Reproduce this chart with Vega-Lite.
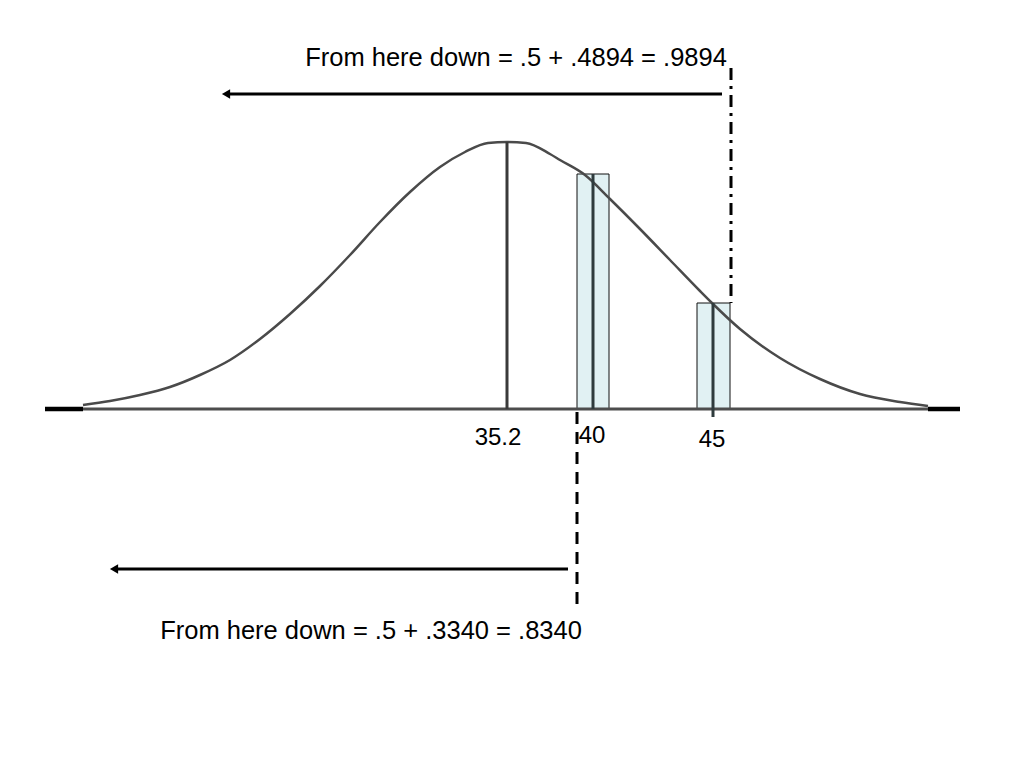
{
  "$schema": "https://vega.github.io/schema/vega-lite/v6.json",
  "width": 1024,
  "height": 768,
  "autosize": {"type": "fit", "contains": "padding"},
  "padding": 0,
  "background": "white",
  "config": {"view": {"stroke": null}},
  "datasets": {
    "curve": [
      {"x": 83, "y": 405}, {"x": 110, "y": 401}, {"x": 140, "y": 395}, {"x": 170, "y": 387},
      {"x": 200, "y": 375}, {"x": 230, "y": 360}, {"x": 260, "y": 339}, {"x": 290, "y": 314},
      {"x": 320, "y": 286}, {"x": 350, "y": 255}, {"x": 380, "y": 222}, {"x": 410, "y": 192},
      {"x": 440, "y": 167}, {"x": 465, "y": 152}, {"x": 488, "y": 143}, {"x": 507, "y": 142},
      {"x": 526, "y": 143}, {"x": 550, "y": 154}, {"x": 560, "y": 160}, {"x": 585, "y": 175},
      {"x": 610, "y": 199}, {"x": 640, "y": 229}, {"x": 670, "y": 260}, {"x": 700, "y": 291},
      {"x": 712, "y": 303}, {"x": 740, "y": 329}, {"x": 780, "y": 358}, {"x": 820, "y": 379},
      {"x": 860, "y": 394}, {"x": 900, "y": 402}, {"x": 928, "y": 406}
    ],
    "bars": [
      {"label": "40", "x": 577, "x2": 609, "y": 174, "y2": 409},
      {"label": "45", "x": 697, "x2": 730, "y": 303, "y2": 409}
    ],
    "barlines": [
      {"x": 593, "y": 174, "y2": 409},
      {"x": 713, "y": 303, "y2": 417}
    ],
    "meanline": [{"x": 507, "y": 142, "y2": 409}],
    "baseline": [{"x": 45, "x2": 960, "y": 409}],
    "ends": [{"x": 45, "x2": 83, "y": 409}, {"x": 928, "x2": 960, "y": 409}],
    "ticklabels": [
      {"x": 498, "y": 438, "label": "35.2"},
      {"x": 592, "y": 436, "label": "40"},
      {"x": 712, "y": 440, "label": "45"}
    ],
    "dashed": [{"x": 577, "y": 412, "y2": 612}],
    "dashdot": [{"x": 731, "y": 68, "y2": 303}],
    "arrows": [
      {"x": 228, "x2": 722, "y": 94},
      {"x": 116, "x2": 568, "y": 569}
    ],
    "heads": [{"x": 226, "y": 94}, {"x": 114, "y": 569}],
    "notes": [
      {"x": 516, "y": 58, "label": "From here down = .5 + .4894 = .9894"},
      {"x": 371, "y": 631, "label": "From here down = .5 + .3340 = .8340"}
    ]
  },
  "layer": [
    {
      "data": {"name": "bars"},
      "mark": {"type": "rect", "fill": "#e1f1f3", "stroke": "#111111", "strokeWidth": 1},
      "encoding": {
        "x": {"field": "x", "type": "quantitative", "scale": {"domain": [0, 1024], "nice": false, "zero": false}, "axis": null},
        "x2": {"field": "x2"},
        "y": {"field": "y", "type": "quantitative", "scale": {"domain": [0, 768], "nice": false, "zero": false, "reverse": true}, "axis": null},
        "y2": {"field": "y2"}
      }
    },
    {
      "data": {"name": "curve"},
      "mark": {"type": "line", "color": "#4a4a4a", "strokeWidth": 2.5, "interpolate": "monotone"},
      "encoding": {
        "x": {"field": "x", "type": "quantitative"},
        "y": {"field": "y", "type": "quantitative"}
      }
    },
    {
      "data": {"name": "baseline"},
      "mark": {"type": "rule", "color": "#4d4d4d", "strokeWidth": 3},
      "encoding": {
        "x": {"field": "x", "type": "quantitative"},
        "x2": {"field": "x2"},
        "y": {"field": "y", "type": "quantitative"}
      }
    },
    {
      "data": {"name": "ends"},
      "mark": {"type": "rule", "color": "#000000", "strokeWidth": 4.5},
      "encoding": {
        "x": {"field": "x", "type": "quantitative"},
        "x2": {"field": "x2"},
        "y": {"field": "y", "type": "quantitative"}
      }
    },
    {
      "data": {"name": "meanline"},
      "mark": {"type": "rule", "color": "#3a3a3a", "strokeWidth": 3},
      "encoding": {
        "x": {"field": "x", "type": "quantitative"},
        "y": {"field": "y", "type": "quantitative"},
        "y2": {"field": "y2"}
      }
    },
    {
      "data": {"name": "barlines"},
      "mark": {"type": "rule", "color": "#2f3b3d", "strokeWidth": 3},
      "encoding": {
        "x": {"field": "x", "type": "quantitative"},
        "y": {"field": "y", "type": "quantitative"},
        "y2": {"field": "y2"}
      }
    },
    {
      "data": {"name": "dashed"},
      "mark": {"type": "rule", "color": "#000000", "strokeWidth": 3, "strokeDash": [12, 8]},
      "encoding": {
        "x": {"field": "x", "type": "quantitative"},
        "y": {"field": "y", "type": "quantitative"},
        "y2": {"field": "y2"}
      }
    },
    {
      "data": {"name": "dashdot"},
      "mark": {"type": "rule", "color": "#000000", "strokeWidth": 3, "strokeDash": [12, 6, 3, 6]},
      "encoding": {
        "x": {"field": "x", "type": "quantitative"},
        "y": {"field": "y", "type": "quantitative"},
        "y2": {"field": "y2"}
      }
    },
    {
      "data": {"name": "arrows"},
      "mark": {"type": "rule", "color": "#000000", "strokeWidth": 3},
      "encoding": {
        "x": {"field": "x", "type": "quantitative"},
        "x2": {"field": "x2"},
        "y": {"field": "y", "type": "quantitative"}
      }
    },
    {
      "data": {"name": "heads"},
      "mark": {"type": "point", "shape": "triangle-left", "filled": true, "color": "#000000", "size": 90, "opacity": 1},
      "encoding": {
        "x": {"field": "x", "type": "quantitative"},
        "y": {"field": "y", "type": "quantitative"}
      }
    },
    {
      "data": {"name": "ticklabels"},
      "mark": {"type": "text", "font": "Liberation Sans", "fontSize": 24, "color": "#000000", "align": "center", "baseline": "middle"},
      "encoding": {
        "x": {"field": "x", "type": "quantitative"},
        "y": {"field": "y", "type": "quantitative"},
        "text": {"field": "label"}
      }
    },
    {
      "data": {"name": "notes"},
      "mark": {"type": "text", "font": "Liberation Sans", "fontSize": 25.5, "color": "#000000", "align": "center", "baseline": "middle"},
      "encoding": {
        "x": {"field": "x", "type": "quantitative"},
        "y": {"field": "y", "type": "quantitative"},
        "text": {"field": "label"}
      }
    }
  ]
}
